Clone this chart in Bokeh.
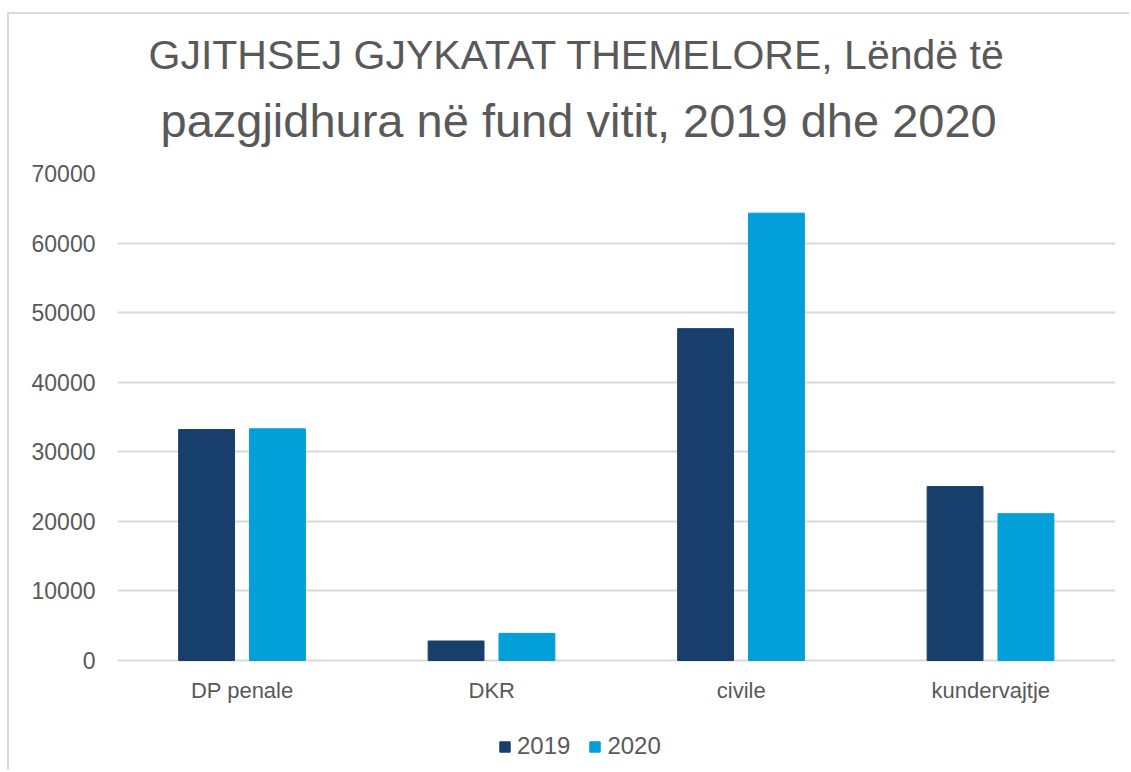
from bokeh.plotting import figure
from bokeh.models import ColumnDataSource, FactorRange, Range1d, Legend, LegendItem, Title, FixedTicker
from bokeh.core.properties import value
from bokeh.transform import dodge
from bokeh.embed import file_html
from bokeh.resources import INLINE

categories = ["DP penale", "DKR", "civile", "kundervajtje"]
years = ["2019", "2020"]
v2019 = [33200, 2800, 47700, 25000]
v2020 = [33300, 3900, 64300, 21100]
y_ticks = [0, 10000, 20000, 30000, 40000, 50000, 60000, 70000]

title_lines = ["GJITHSEJ GJYKATAT THEMELORE, Lëndë të",
               "pazgjidhura në fund vitit, 2019 dhe 2020"]

colors = ["#183F6B", "#029FD9"]
TEXT = "#595959"
GRID = "#D9D9D9"
FONT = "Liberation Sans"

src = ColumnDataSource(dict(cat=categories, y2019=v2019, y2020=v2020))

# frame extends below zero so that category labels and legend sit inside it
p = figure(x_range=FactorRange(*categories, range_padding=0),
           y_range=Range1d(-16100, 70000),
           width=1122, height=758, x_axis_location=None,
           output_backend="svg", toolbar_location=None,
           min_border_left=108, min_border_right=16,
           min_border_top=159, min_border_bottom=0)

p.styles = {"margin-left": "7px", "margin-top": "12px",
            "border-left": "2px solid #D9D9D9", "border-top": "2px solid #D9D9D9"}

# two title lines, added bottom-up
p.add_layout(Title(text=title_lines[1], align="left", offset=43,
                   text_font=FONT, text_font_size="47px", text_font_style="normal",
                   text_color=TEXT, standoff=54), "above")
p.add_layout(Title(text=title_lines[0], align="left", offset=31,
                   text_font=FONT, text_font_size="41px", text_font_style="normal",
                   text_color=TEXT, standoff=-27), "above")

r1 = p.vbar(x=dodge("cat", -0.143, range=p.x_range), top="y2019", width=0.224,
            source=src, color=colors[0])
r2 = p.vbar(x=dodge("cat", 0.141, range=p.x_range), top="y2020", width=0.224,
            source=src, color=colors[1])

# category labels under the zero line
p.text(x="cat", y=-4300, text="cat", source=src,
       text_font=value(FONT), text_font_size="22px", text_color=TEXT,
       text_align="center", text_baseline="middle")

p.outline_line_color = None
p.xgrid.grid_line_color = None
p.ygrid.grid_line_color = GRID
p.ygrid.grid_line_width = 2
p.ygrid.ticker = FixedTicker(ticks=y_ticks)

p.yaxis.ticker = FixedTicker(ticks=y_ticks)
p.yaxis.axis_line_color = None
p.yaxis.major_tick_line_color = None
p.yaxis.minor_tick_line_color = None
p.yaxis.major_label_standoff = 16
p.yaxis.major_label_text_font = FONT
p.yaxis.major_label_text_font_size = "23px"
p.yaxis.major_label_text_color = TEXT

legend = Legend(items=[LegendItem(label=years[0], renderers=[r1]),
                       LegendItem(label=years[1], renderers=[r2])],
                orientation="horizontal", location=(381, 12),
                glyph_width=13, glyph_height=13, label_standoff=6, spacing=18,
                label_text_font=FONT, label_text_font_size="24px",
                label_text_color=TEXT, border_line_color=None,
                background_fill_alpha=0, margin=0, padding=0)
p.add_layout(legend)

open("out.html", "w").write(file_html(p, INLINE))
